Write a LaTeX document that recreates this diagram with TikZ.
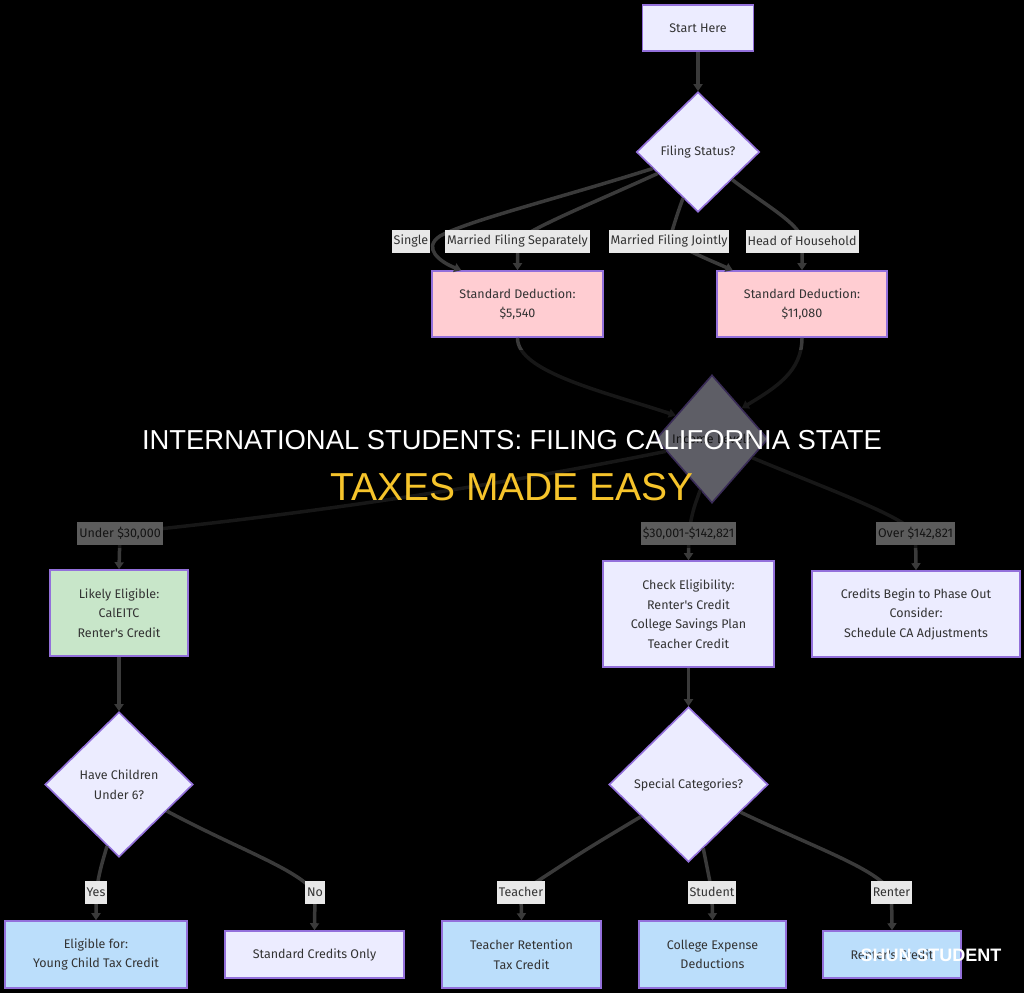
\documentclass[tikz,border=0pt]{standalone}
\usepackage{fontspec}
\usetikzlibrary{shapes.geometric,arrows.meta}
\newfontfamily\diagfont{Fira Sans}
\newfontfamily\titlefont{Liberation Sans}
\definecolor{boxline}{HTML}{9370DB}
\definecolor{boxfill}{HTML}{ECECFF}
\definecolor{pinkfill}{HTML}{FFCDD2}
\definecolor{greenfill}{HTML}{C8E6C9}
\definecolor{bluefill}{HTML}{BBDEFB}
\definecolor{inkgray}{HTML}{333333}
\definecolor{edgegray}{HTML}{3A3A3A}
\definecolor{labelfill}{HTML}{E8E8E8}
\definecolor{titleyellow}{HTML}{F6C42B}
\tikzset{
    box/.style={draw=boxline, line width=1.6pt, fill=boxfill, text=inkgray, align=center,
        inner sep=0pt, font=\diagfont\fontsize{12.5}{19.5}\selectfont},
    decision/.style={box, diamond},
    elabel/.style={fill=labelfill, text=inkgray, inner xsep=2pt, inner ysep=0pt,
        minimum height=23pt, font=\diagfont\fontsize{12.5}{15}\selectfont},
    edge/.style={draw=edgegray, line width=3.5pt, -{Triangle[length=7pt,width=9pt]}},
}
\begin{document}
\begin{tikzpicture}[x=1pt,y=-1pt]
        \fill[black] (0,0) rectangle (1024,993);

        % boxes
        \node[box, minimum width=111pt, minimum height=46pt] (start) at (698,28) {Start Here};
        \node[decision, minimum width=123pt, minimum height=120pt] (fs) at (698,152) {Filing Status?};
        \node[box, fill=pinkfill, minimum width=171pt, minimum height=66pt] (sd1) at (517.5,304) {Standard Deduction:\\\$5,540};
        \node[box, fill=pinkfill, minimum width=170pt, minimum height=66pt] (sd2) at (802,304) {Standard Deduction:\\\$11,080};
        \node[decision, minimum width=112pt, minimum height=128pt] (inc) at (712,439) {Income Level?};
        \node[box, fill=greenfill, minimum width=138pt, minimum height=86pt] (likely) at (119,613) {Likely Eligible:\\CalEITC\\Renter's Credit};
        \node[box, minimum width=171pt, minimum height=106pt] (check) at (688.5,614) {Check Eligibility:\\Renter's Credit\\College Savings Plan\\Teacher Credit};
        \node[box, minimum width=208pt, minimum height=86pt] (credits) at (916,614) {Credits Begin to Phase Out\\Consider:\\Schedule CA Adjustments};
        \node[decision, minimum width=148pt, minimum height=145pt] (kids) at (119,784.5) {Have Children\\Under 6?};
        \node[decision, minimum width=159pt, minimum height=155pt] (spec) at (688.5,784.5) {Special Categories?};
        \node[box, fill=bluefill, minimum width=182pt, minimum height=67pt] (eligible) at (96,954.5) {Eligible for:\\Young Child Tax Credit};
        \node[box, minimum width=179pt, minimum height=47pt] (stdcred) at (314.5,954.5) {Standard Credits Only};
        \node[box, fill=bluefill, minimum width=159pt, minimum height=67pt] (trc) at (521.5,954.5) {Teacher Retention\\Tax Credit};
        \node[box, fill=bluefill, minimum width=147pt, minimum height=67pt] (ce) at (712.5,954.5) {College Expense\\Deductions};
        \node[box, fill=bluefill, minimum width=138pt, minimum height=47pt] (rc) at (892,954.5) {Renter's Credit};

        % label positions
        \coordinate (lSingle) at (411,241);
        \coordinate (lSep) at (517.5,241);
        \coordinate (lJoint) at (669,241);
        \coordinate (lHoH) at (802,241);
        \coordinate (lUnder) at (120,533);
        \coordinate (lMid) at (688.5,533);
        \coordinate (lOver) at (915.5,533);
        \coordinate (lYes) at (96,892);
        \coordinate (lNo) at (315,892);
        \coordinate (lTeacher) at (521,892);
        \coordinate (lStudent) at (712,892);
        \coordinate (lRenter) at (891.5,892);

        % connectors
        \draw[edge] (start) -- (fs);
        \draw[edge] (fs.200) .. controls (560,198) and (470,220) .. (440,236) .. controls (422,248) and (440,262) .. (sd1.149);
        \draw[edge] (fs.208) .. controls (600,200) and (530,228) .. (lSep) -- (sd1.north);
        \draw[edge] (fs.252) .. controls (677,215) .. (lJoint) .. controls (700,256) .. (sd2.154);
        \draw[edge] (fs.321) .. controls (765,205) and (802,225) .. (lHoH) -- (sd2.north);
        \draw[edge] (sd1.south) .. controls (517,372) and (605,392) .. (inc.147);
        \draw[edge] (sd2.south) .. controls (802,372) and (775,388) .. (inc.46);
        \draw[edge] (inc.195) .. controls (450,495) and (250,520) .. (lUnder) -- (likely.north);
        \draw[edge] (inc.257) .. controls (693,510) .. (lMid) -- (check.north);
        \draw[edge] (inc.335) .. controls (830,490) and (900,515) .. (lOver) -- (credits.north);
        \draw[edge] (likely) -- (kids);
        \draw[edge] (check) -- (spec);
        \draw[edge] (kids.259) .. controls (100,870) .. (lYes) -- (eligible.north);
        \draw[edge] (kids.331) .. controls (240,850) and (295,868) .. (lNo) -- (stdcred.north);
        \draw[edge] (spec.214) .. controls (585,850) .. (lTeacher) -- (trc.north);
        \draw[edge] (spec.283) .. controls (708,870) .. (lStudent) -- (ce.north);
        \draw[edge] (spec.332) .. controls (820,850) and (875,868) .. (lRenter) -- (rc.north);

        % edge labels
        \node[elabel] at (lSingle) {Single};
        \node[elabel] at (lSep) {Married Filing Separately};
        \node[elabel] at (lJoint) {Married Filing Jointly};
        \node[elabel] at (lHoH) {Head of Household};
        \node[elabel] at (lUnder) {Under \$30,000};
        \node[elabel] at (lMid) {\$30,001-\$142,821};
        \node[elabel] at (lOver) {Over \$142,821};
        \node[elabel] at (lYes) {Yes};
        \node[elabel] at (lNo) {No};
        \node[elabel] at (lTeacher) {Teacher};
        \node[elabel] at (lStudent) {Student};
        \node[elabel] at (lRenter) {Renter};

        % dark band and title
        \fill[black, opacity=0.6] (0,350) rectangle (1024,548);
        \node[anchor=base, text=white, font=\titlefont\fontsize{27.4}{30}\selectfont] (title) at (512,449.5) {INTERNATIONAL STUDENTS: FILING CALIFORNIA STATE};
        \node[anchor=base, text=titleyellow, font=\titlefont\fontsize{39}{42}\selectfont] (subtitle) at (512,500) {TAXES MADE EASY};
        \node[anchor=base, text=white, font=\titlefont\bfseries\fontsize{18}{20}\selectfont] (mark) at (931,961) {SHUN STUDENT};
\end{tikzpicture}
\end{document}
